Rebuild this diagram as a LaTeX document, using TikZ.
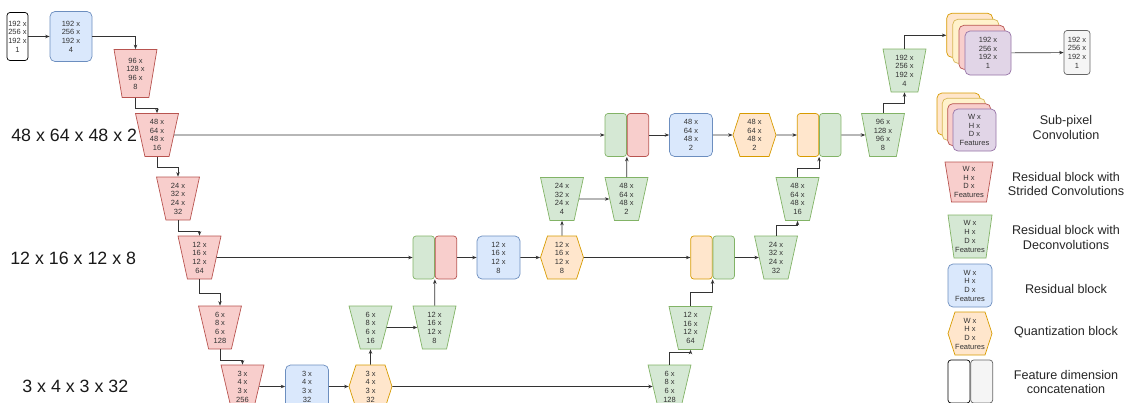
\documentclass[tikz,border=0pt]{standalone}
\usepackage{fontspec}
\setmainfont{Liberation Sans}
\usepackage{tikz}
\usetikzlibrary{calc}
\usetikzlibrary{positioning}
\usetikzlibrary{shapes.geometric,shapes.symbols,arrows.meta}

\definecolor{txt}{HTML}{333333}
\definecolor{redfill}{HTML}{F8CECC}
\definecolor{redline}{HTML}{B85450}
\definecolor{greenfill}{HTML}{D5E8D4}
\definecolor{greenline}{HTML}{82B366}
\definecolor{bluefill}{HTML}{DAE8FC}
\definecolor{blueline}{HTML}{6C8EBF}
\definecolor{orangefill}{HTML}{FFE6CC}
\definecolor{orangeline}{HTML}{D79B00}
\definecolor{yellowfill}{HTML}{FFF2CC}
\definecolor{yellowline}{HTML}{D6B656}
\definecolor{purplefill}{HTML}{E1D5E7}
\definecolor{purpleline}{HTML}{9673A6}
\definecolor{greyfill}{HTML}{F5F5F5}
\definecolor{greyline}{HTML}{666666}

\begin{document}
\begin{tikzpicture}[x=1pt,y=-1pt,line width=0.7pt,
  dims/.style={font=\fontsize{7.5}{8.7}\selectfont, text=txt, align=center, inner sep=0pt},
  strided/.style={dims, trapezium, shape border rotate=180, trapezium angle=80,
                  trapezium stretches=true, minimum width=43pt, minimum height=43pt,
                  draw=redline, fill=redfill},
  deconv/.style={strided, draw=greenline, fill=greenfill},
  resblk/.style={dims, rounded corners=5pt, minimum width=43pt, minimum height=43pt,
                 draw=blueline, fill=bluefill},
  quant/.style={dims, signal, signal to=east and west, signal pointer angle=144,
                minimum width=43pt, minimum height=43pt, draw=orangeline, fill=orangefill},
  catpart/.style={rounded corners=3pt, minimum width=21.5pt, minimum height=43pt, inner sep=0pt},
  gpart/.style={catpart, draw=greenline, fill=greenfill},
  rpart/.style={catpart, draw=redline, fill=redfill},
  opart/.style={catpart, draw=orangeline, fill=orangefill},
  stacklayer/.style={dims, rounded corners=5pt, minimum width=46pt, minimum height=44pt},
  link/.style={draw=txt, -{Stealth[length=4.5pt,width=3.5pt]}},
  bigdims/.style={font=\fontsize{17.8}{20}\selectfont, text=black!90, inner sep=0pt, anchor=west},
  legend/.style={font=\fontsize{12.6}{14.5}\selectfont, text=black!85, align=center}]
\useasboundingbox (0,0) rectangle (1126,402);

\node[bigdims] (l1) at (11,135) {48 x 64 x 48 x 2};
\node[bigdims] (l2) at (10,258) {12 x 16 x 12 x 8};
\node[bigdims] (l3) at (22,386) {3 x 4 x 3 x 32};

\node[resblk, draw=black, fill=white, rounded corners=3pt, minimum width=21pt,
      minimum height=48pt] (in) at (17.5,36.5) {192 x\\256 x\\192 x\\1};
\node[resblk, minimum width=42pt, minimum height=50pt] (b0) at (71,36.5) {192 x\\256 x\\192 x\\4};
\node[strided, minimum height=48pt] (r1) at (135.5,73.5) {96 x\\128 x\\96 x\\8};
\node[strided] (r2) at (157,135) {48 x\\64 x\\48 x\\16};
\node[strided] (r3) at (178,198.5) {24 x\\32 x\\24 x\\32};
\node[strided] (r4) at (199.5,257.5) {12 x\\16 x\\12 x\\64};
\node[strided] (r5) at (220,327.5) {6 x\\8 x\\6 x\\128};
\node[strided] (r6) at (242.5,386.5) {3 x\\4 x\\3 x\\256};

\node[resblk] (b3) at (307,386.5) {3 x\\4 x\\3 x\\32};
\node[quant] (q3) at (370.5,386.5) {3 x\\4 x\\3 x\\32};
\node[deconv] (g5) at (370.5,327.5) {6 x\\8 x\\6 x\\16};
\node[deconv] (g6) at (434.5,327.5) {12 x\\16 x\\12 x\\8};

\node[gpart] (cB1) at (423.75,257.5) {};
\node[rpart, right=0pt of cB1] (cB2) {};
\node[resblk] (bB) at (498.5,257.5) {12 x\\16 x\\12 x\\8};
\node[quant] (qB) at (562,257.5) {12 x\\16 x\\12 x\\8};
\node[deconv] (g8) at (562,199) {24 x\\32 x\\24 x\\4};
\node[deconv] (g9) at (626.5,199) {48 x\\64 x\\48 x\\2};

\node[gpart] (cA1) at (615.75,135) {};
\node[rpart, right=0pt of cA1] (cA2) {};
\node[resblk] (bA) at (691,135) {48 x\\64 x\\48 x\\2};
\node[quant] (qA) at (754.5,135) {48 x\\64 x\\48 x\\2};
\node[opart] (cD1) at (808,135) {};
\node[gpart, right=0pt of cD1] (cD2) {};

\node[deconv] (g7) at (669.5,386.5) {6 x\\8 x\\6 x\\128};
\node[deconv] (g10) at (690.5,328) {12 x\\16 x\\12 x\\64};
\node[opart] (cC1) at (701.5,257.5) {};
\node[gpart, right=0pt of cC1] (cC2) {};
\node[deconv] (g11) at (776,257.5) {24 x\\32 x\\24 x\\32};
\node[deconv] (g12) at (797.5,199) {48 x\\64 x\\48 x\\16};
\node[deconv] (g13) at (883,135) {96 x\\128 x\\96 x\\8};
\node[deconv] (g14) at (904.5,70.5) {192 x\\256 x\\192 x\\4};

\node[stacklayer, draw=orangeline, fill=orangefill] (s1) at (969.7,35.3) {};
\node[stacklayer, draw=yellowline, fill=yellowfill] (s2) at (975.8,41.3) {};
\node[stacklayer, draw=redline, fill=redfill] (s3) at (981.9,47.3) {};
\node[stacklayer, draw=purpleline, fill=purplefill] (s4) at (988,53) {192 x\\256 x\\192 x\\1};
\node[resblk, draw=greyline, fill=greyfill, rounded corners=3pt, minimum width=26pt,
      minimum height=44pt] (out) at (1077,52.5) {192 x\\256 x\\192 x\\1};

\draw[link] (in) -- (b0);
\draw[link] (b0.east) -| (r1.north);
\draw[link] (r1.south) -- ++(0,10) -| (r2.north);
\draw[link] (r2.south) -- ++(0,10) -| (r3.north);
\draw[link] (r3.south) -- ++(0,11) -| (r4.north);
\draw[link] (r4.south) -- ++(0,14) -| (r5.north);
\draw[link] (r5.south) -- ++(0,11) -| (r6.north);
\draw[link] (r6) -- (b3);
\draw[link] (b3) -- (q3);
\draw[link] (q3) -- (g5);
\draw[link] (g5) -- (g6);
\draw[link] (g6) -- (cB1.south east);
\draw[link] (q3) -- (g7);
\draw[link] (g7.north) -- ++(0,-12) -| (g10.south);
\draw[link] (g10.north) -- ++(0,-14) -| (cC1.south east);
\draw[link] (r4) -- (cB1);
\draw[link] (cB2) -- (bB);
\draw[link] (bB) -- (qB);
\draw[link] (qB) -- (g8);
\draw[link] (g8) -- (g9);
\draw[link] (g9) -- (cA1.south east);
\draw[link] (qB) -- (cC1);
\draw[link] (cC2) -- (g11);
\draw[link] (g11.north) -- ++(0,-10) -| (g12.south);
\draw[link] (g12.north) -- ++(0,-9) -| (cD1.south east);
\draw[link] (r2) -- (cA1);
\draw[link] (cA2) -- (bA);
\draw[link] (bA) -- (qA);
\draw[link] (qA) -- (cD1);
\draw[link] (cD2) -- (g13);
\draw[link] (g13.north) -- ++(0,-10) -| (g14.south);
\draw[link] (g14.north) |- (s1.west);
\draw[link] (s4) -- (out);

\node[stacklayer, draw=orangeline, fill=orangefill, minimum width=43pt, minimum height=42pt] (k1) at (958.5,114) {};
\node[stacklayer, draw=yellowline, fill=yellowfill, minimum width=43pt, minimum height=42pt] (k2) at (963.8,119.3) {};
\node[stacklayer, draw=redline, fill=redfill, minimum width=43pt, minimum height=42pt] (k3) at (969.2,124.7) {};
\node[stacklayer, draw=purpleline, fill=purplefill, minimum width=43pt, minimum height=42pt] (k4) at (974.5,130) {W x\\H x\\D x\\Features};
\node[strided, minimum width=48pt, minimum height=40pt] (kr) at (969,182) {W x\\H x\\D x\\Features};
\node[deconv, minimum width=44pt] (kg) at (970,236.5) {W x\\H x\\D x\\Features};
\node[resblk, minimum width=44pt] (kb) at (970,285.5) {W x\\H x\\D x\\Features};
\node[quant, minimum width=44pt] (kq) at (970,333.5) {W x\\H x\\D x\\Features};
\node[catpart, draw=black, fill=white, minimum width=22pt] (kc1) at (959,381.5) {};
\node[catpart, draw=greyline, fill=greyfill, minimum width=22pt, right=0pt of kc1] (kc2) {};

\node[legend] (t1) at (1066,127.5) {Sub-pixel\\Convolution};
\node[legend] (t2) at (1066,184) {Residual block with\\Strided Convolutions};
\node[legend] (t3) at (1066,237.5) {Residual block with\\Deconvolutions};
\node[legend] (t4) at (1066,289) {Residual block};
\node[legend] (t5) at (1066,332) {Quantization block};
\node[legend] (t6) at (1066,382) {Feature dimension\\concatenation};
\end{tikzpicture}
\end{document}
